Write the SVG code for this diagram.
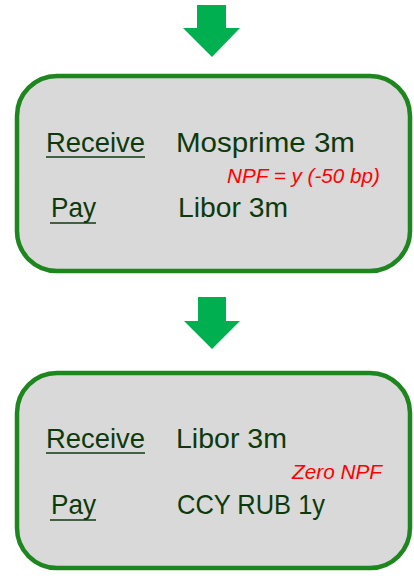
<svg xmlns="http://www.w3.org/2000/svg" width="414" height="576" viewBox="0 0 414 576">
<style>
.box{fill:#d9d9d9;stroke:#1e861e;stroke-width:4.5}
.arr{fill:#00b050}
.t{font-family:"Liberation Sans",Arial,sans-serif;font-size:28px;fill:#0c3a0c}
.n{font-family:"Liberation Sans",Arial,sans-serif;font-size:20px;font-style:italic;fill:#ff0000}
.u{stroke:#0c3a0c;stroke-width:1.6}
</style>
<rect width="414" height="576" fill="#ffffff"/>
<g id="connectors">
<polygon class="arr" points="197,5 226,5 226,28 240,28 212,57 183,28 197,28"/>
<polygon class="arr" points="198,297 226,297 226,321 240,321 212,349 184,321 198,321"/>
</g>
<g id="box1">
<rect class="box" x="17" y="76" width="393" height="195" rx="40" ry="40"/>
<text class="t" x="46" y="152" textLength="99" lengthAdjust="spacingAndGlyphs">Receive</text>
<line class="u" x1="46" y1="157" x2="145" y2="157"/>
<text class="t" x="176" y="152" textLength="179" lengthAdjust="spacingAndGlyphs">Mosprime 3m</text>
<text class="n" x="227" y="183" textLength="153" lengthAdjust="spacingAndGlyphs">NPF = y (-50 bp)</text>
<text class="t" x="51" y="217" textLength="45" lengthAdjust="spacingAndGlyphs">Pay</text>
<line class="u" x1="50" y1="223" x2="96" y2="223"/>
<text class="t" x="178" y="217" textLength="110" lengthAdjust="spacingAndGlyphs">Libor 3m</text>
</g>
<g id="box2">
<rect class="box" x="17" y="373" width="393" height="195" rx="40" ry="40"/>
<text class="t" x="46" y="448" textLength="99" lengthAdjust="spacingAndGlyphs">Receive</text>
<line class="u" x1="46" y1="453" x2="145" y2="453"/>
<text class="t" x="176" y="448" textLength="111" lengthAdjust="spacingAndGlyphs">Libor 3m</text>
<text class="n" x="292" y="479" textLength="90" lengthAdjust="spacingAndGlyphs">Zero NPF</text>
<text class="t" x="51" y="514" textLength="45" lengthAdjust="spacingAndGlyphs">Pay</text>
<line class="u" x1="50" y1="520" x2="96" y2="520"/>
<text class="t" x="177" y="514" textLength="148" lengthAdjust="spacingAndGlyphs">CCY RUB 1y</text>
</g>
</svg>
